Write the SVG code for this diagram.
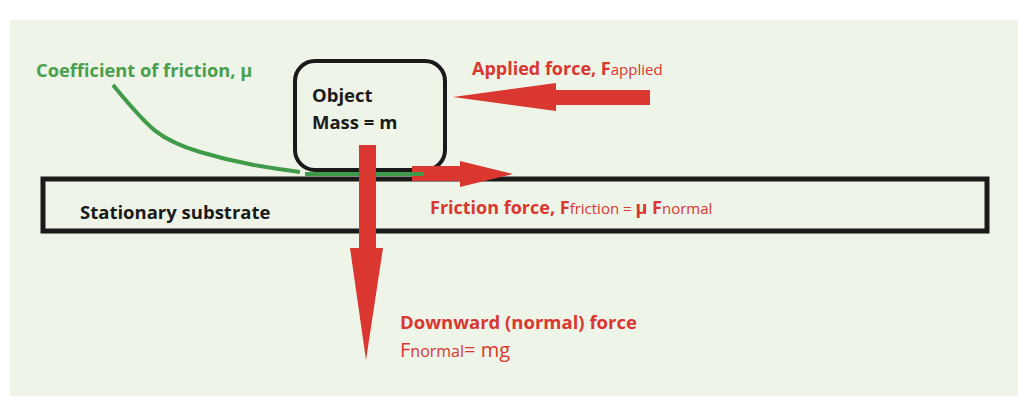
<svg xmlns="http://www.w3.org/2000/svg" width="1028" height="408" viewBox="0 0 1028 408">
<style>
.r{fill:#d9372f}
.t{font-family:"Open Sans","Liberation Sans",sans-serif;font-weight:bold}
.red{fill:#d9372f}
.s{font-weight:normal;font-size:15px}
</style>
<rect width="1028" height="408" fill="#fff"/>
<rect x="10" y="20" width="1008" height="376" fill="#eef4e7"/>
<g id="substrate">
<rect x="43" y="179" width="944" height="52" fill="none" stroke="#1a1a1a" stroke-width="5"/>
<text class="t" x="80" y="219" font-size="18.5" fill="#1a1a1a">Stationary substrate</text>
</g>
<g id="object">
<rect x="295" y="61" width="150" height="109" rx="20" fill="none" stroke="#1a1a1a" stroke-width="4"/>
<text class="t" x="312" y="102" font-size="18.5" fill="#1a1a1a">Object</text>
<text class="t" x="312" y="129" font-size="18.5" fill="#1a1a1a">Mass = m</text>
</g>
<g id="connectors">
<path d="M113 85 C150 130 160 140 200 152 C240 164 270 168 300 172" fill="none" stroke="#3f9a4a" stroke-width="4"/>
<path d="M650 90 L556 90 L556 83 L453 97 L556 111 L556 105 L650 105 Z" class="r"/>
<path d="M412 166 L460 166 L460 161 L513 174 L460 187 L460 181 L412 181 Z" class="r"/>
<line x1="305" y1="174" x2="424" y2="174" stroke="#3f9a4a" stroke-width="4"/>
<path d="M359 145 L376 145 L376 248 L383 248 L366 360 L350 248 L359 248 Z" class="r"/>
</g>
<g id="labels">
<text class="t" x="36" y="77" font-size="18.3" fill="#4a9e4c">Coefficient of friction, μ</text>
<text class="t red" x="472" y="75" font-size="18">Applied force, F<tspan class="s">applied</tspan></text>
<text class="t red" x="430" y="214" font-size="18">Friction force, F<tspan class="s">friction = </tspan>μ F<tspan class="s">normal</tspan></text>
<text class="t red" x="400" y="329" font-size="18.5">Downward (normal) force</text>
<text class="t red" x="400" y="357" font-size="20" style="font-weight:normal">F<tspan font-size="16">normal</tspan>= mg</text>
</g>
</svg>
